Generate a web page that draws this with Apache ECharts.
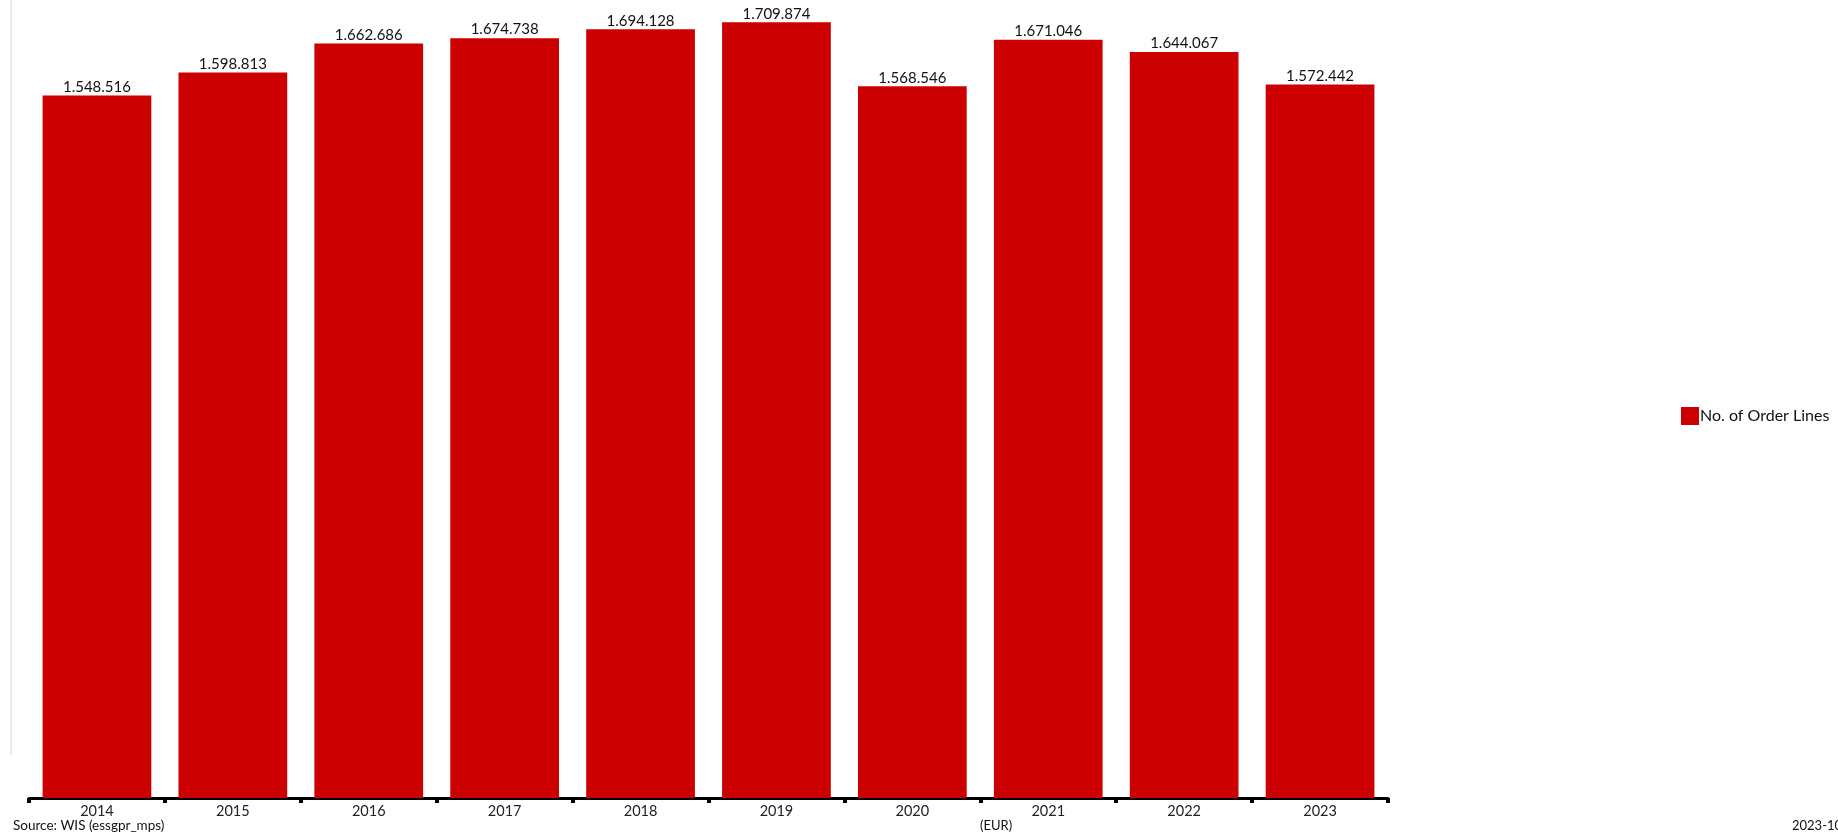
<!DOCTYPE html>
<html>
<head>
<meta charset="utf-8">
<script src="https://cdn.jsdelivr.net/npm/echarts@6/dist/echarts.min.js"></script>
<style>
html,body{margin:0;padding:0;background:#fff;}
#chart{width:1838px;height:835px;}
</style>
</head>
<body>
<div id="chart"></div>
<script>
const categories = ['2014','2015','2016','2017','2018','2019','2020','2021','2022','2023'];
const orderLines = [1548516,1598813,1662686,1674738,1694128,1709874,1568546,1671046,1644067,1572442];
const seriesName = 'No. of Order Lines';
const sourceText = 'Source: WIS (essgpr_mps)';
const unitText = '(EUR)';
const dateText = '2023-10-01';

const FONT = 'Lato, "DejaVu Sans", sans-serif';
function fmt(v){ return String(v).replace(/\B(?=(\d{3})+(?!\d))/g, '.'); }

const chart = echarts.init(document.getElementById('chart'));
chart.setOption({
  animation:false,
  backgroundColor:'#fff',
  textStyle:{fontFamily:FONT},
  grid:{left:29, right:450, top:4, bottom:37, containLabel:false},
  legend:{
    orient:'vertical', left:1676, top:402,
    itemWidth:18, itemHeight:18, itemGap:4,
    icon:'rect',
    textStyle:{fontFamily:FONT, fontSize:16, color:'#111', padding:[0,0,0,-4]},
    data:[seriesName]
  },
  xAxis:{
    type:'category', data:categories, boundaryGap:true,
    axisLine:{show:true, lineStyle:{color:'#000', width:3}},
    axisTick:{show:true, length:5, lineStyle:{color:'#000', width:4}},
    axisLabel:{fontFamily:FONT, fontSize:14.5, color:'#222', margin:6}
  },
  yAxis:{
    type:'value', min:0, max:1750000, show:false,
    splitLine:{show:false}
  },
  series:[{
    name:seriesName, type:'bar', data:orderLines,
    barCategoryGap:'20%',
    itemStyle:{color:'#CC0000'},
    label:{show:true, position:'top', distance:1, fontFamily:FONT, fontSize:15, color:'#111',
      formatter:p=>fmt(p.value)}
  }],
  graphic:[
    {type:'line', shape:{x1:11, y1:0, x2:11, y2:755}, style:{stroke:'#d2d2d2', lineWidth:1}},
    {type:'text', left:13, top:819, style:{text:sourceText, font:'13.5px '+FONT, fill:'#111'}},
    {type:'text', left:980, top:819, style:{text:unitText, font:'13px '+FONT, fill:'#111'}},
    {type:'text', left:1792, top:819, style:{text:dateText, font:'13px '+FONT, fill:'#111'}}
  ]
});
</script>
</body>
</html>
